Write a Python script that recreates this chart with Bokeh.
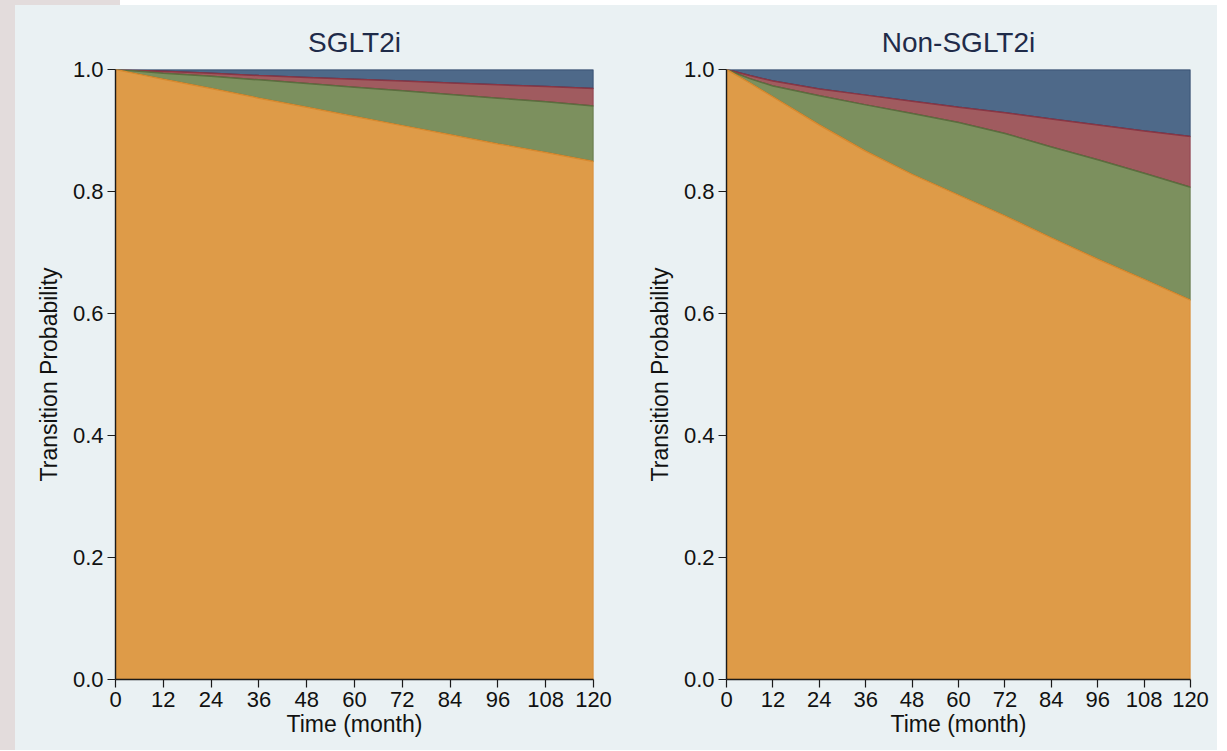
from bokeh.plotting import figure
from bokeh.models import Range1d, FixedTicker, PrintfTickFormatter, Div
from bokeh.layouts import row, column
from bokeh.embed import file_html
from bokeh.resources import INLINE

# ---------------- data ----------------
months = [0, 6, 12, 24, 36, 48, 60, 72, 84, 96, 108, 120]
x_ticks = [0, 12, 24, 36, 48, 60, 72, 84, 96, 108, 120]
y_ticks = [0.0, 0.2, 0.4, 0.6, 0.8, 1.0]
panel_titles = ["SGLT2i", "Non-SGLT2i"]
x_label = "Time (month)"
y_label = "Transition Probability"

# cumulative (stacked) upper boundaries of each state band
sglt2i_orange_top = [1.0, 0.992, 0.984, 0.969, 0.953, 0.938, 0.923, 0.908, 0.893, 0.878, 0.864, 0.849]
sglt2i_green_top = [1.0, 0.997, 0.994, 0.989, 0.983, 0.977, 0.971, 0.965, 0.959, 0.953, 0.947, 0.940]
sglt2i_red_top = [1.0, 0.9985, 0.997, 0.994, 0.990, 0.987, 0.984, 0.981, 0.978, 0.975, 0.972, 0.969]

non_orange_top = [1.0, 0.978, 0.955, 0.909, 0.866, 0.828, 0.794, 0.760, 0.724, 0.689, 0.656, 0.622]
non_green_top = [1.0, 0.985, 0.973, 0.957, 0.942, 0.928, 0.913, 0.895, 0.873, 0.852, 0.830, 0.807]
non_red_top = [1.0, 0.990, 0.981, 0.968, 0.958, 0.948, 0.938, 0.929, 0.919, 0.909, 0.899, 0.890]

# ---------------- style ----------------
BG = "#eaf1f3"
PINK = "#e3dcdc"
FONT = "Liberation Sans"
COL = {
    "blue": ("#4e6989", "#2c4468"),
    "red": ("#a05b5f", "#8a3644"),
    "green": ("#7c905e", "#5b6e3f"),
    "orange": ("#de9b48", "#d88a30"),
}
TOP = 5
H = 745


def make_panel(title, orange_top, green_top, red_top, width, left_border):
    p = figure(
        width=width, height=H,
        x_range=Range1d(0, 120), y_range=Range1d(0, 1),
        output_backend="svg", toolbar_location=None,
        min_border_left=left_border, min_border_right=27,
        min_border_top=69 - TOP, min_border_bottom=H + TOP - 679,
        background_fill_color=BG, border_fill_color=BG,
        outline_line_color=None, title=title,
    )
    zeros = [0.0] * len(months)
    ones = [1.0] * len(months)
    bands = [
        (red_top, ones, "blue"),
        (green_top, red_top, "red"),
        (orange_top, green_top, "green"),
        (zeros, orange_top, "orange"),
    ]
    for lower, upper, c in bands:
        fill, line = COL[c]
        p.patch(months + months[::-1], list(upper) + list(lower)[::-1],
                fill_color=fill, line_color=line, line_width=1.5)

    p.xgrid.visible = False
    p.ygrid.visible = False

    p.title.align = "center"
    p.title.text_font = FONT
    p.title.text_font_size = "28px"
    p.title.text_font_style = "normal"
    p.title.text_color = "#1f2b49"
    p.title.standoff = 23

    p.xaxis.ticker = FixedTicker(ticks=x_ticks)
    p.yaxis.ticker = FixedTicker(ticks=y_ticks)
    p.yaxis.formatter = PrintfTickFormatter(format="%.1f")
    p.xaxis.axis_label = x_label
    p.yaxis.axis_label = y_label
    for ax in (p.xaxis, p.yaxis):
        ax.axis_line_color = "#1a1a1a"
        ax.axis_line_width = 1.4
        ax.major_tick_line_color = "#1a1a1a"
        ax.major_tick_line_width = 1.2
        ax.major_tick_in = 0
        ax.major_tick_out = 8
        ax.minor_tick_line_color = None
        ax.major_label_text_font = FONT
        ax.major_label_text_font_size = "22px"
        ax.major_label_text_color = "#111111"
        ax.major_label_standoff = 4
        ax.axis_label_text_font = FONT
        ax.axis_label_text_font_size = "23px"
        ax.axis_label_text_font_style = "normal"
        ax.axis_label_text_color = "#111111"
    p.yaxis.axis_label_standoff = 8
    p.xaxis.axis_label_standoff = 1
    p.yaxis.major_label_orientation = "horizontal"
    return p


p1 = make_panel(panel_titles[0], sglt2i_orange_top, sglt2i_green_top, sglt2i_red_top, 605, 100)
p2 = make_panel(panel_titles[1], non_orange_top, non_green_top, non_red_top, 597, 106)

strip = Div(text="", width=15, height=H, margin=0, styles={"background-color": PINK})
top_pink = Div(text="", width=120, height=TOP, margin=0, styles={"background-color": PINK})
top_white = Div(text="", width=1097, height=TOP, margin=0, styles={"background-color": "#ffffff"})

body = row(strip, p1, p2, spacing=0, styles={"background-color": BG})
layout = column(row(top_pink, top_white, spacing=0), body, spacing=0)

open("out.html", "w").write(file_html(layout, INLINE, title="Transition Probability"))
